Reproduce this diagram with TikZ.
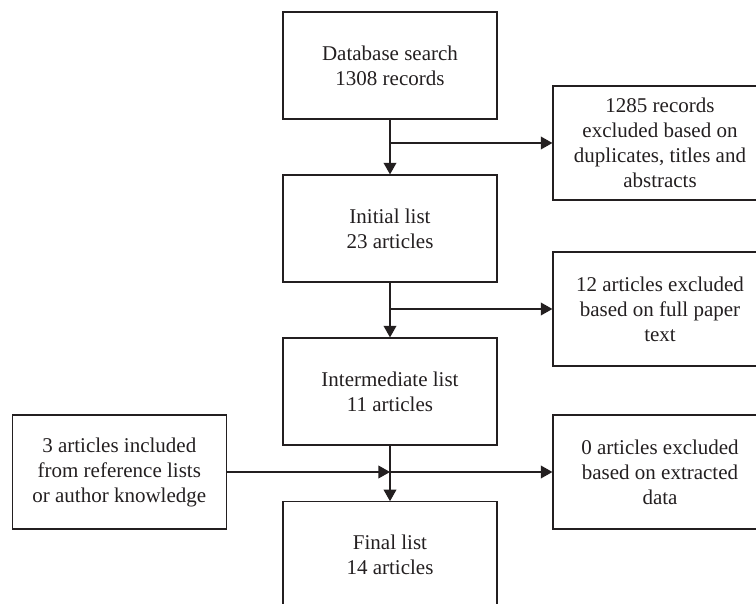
\documentclass[tikz,border=0pt]{standalone}
\usepackage{fontspec}
\setmainfont{Liberation Serif}
\usetikzlibrary{arrows.meta}

\definecolor{ink}{HTML}{231F20}
\tikzset{
  box/.style={draw=ink, text=ink, line width=0.6pt, minimum width=107pt, minimum height=53.5pt,
    inner sep=0pt, align=center, font=\fontsize{10.5}{12.5}\selectfont},
  sidebox/.style={box, minimum height=57pt},
  arr/.style={draw=ink, line width=0.6pt, -{Triangle[length=5.8pt,width=6.4pt]}}
}

\begin{document}
\begin{tikzpicture}[x=0.5pt,y=-0.5pt]
  \useasboundingbox (0,0) rectangle (756,604);
  \clip (0,0) rectangle (756,604);
  % main column
  \node[box] (db) at (390,65.5) {Database search\\1308 records};
  \node[box] (init) at (390,228.5) {Initial list\\23 articles};
  \node[box] (inter) at (390,391.5) {Intermediate list\\11 articles};
  \node[box] (final) at (390,555.3) {Final list\\14 articles};
  % side boxes
  \node[sidebox] (exA) at (660,143) {1285 records\\excluded based on\\duplicates, titles and\\abstracts};
  \node[sidebox] (exB) at (660,309) {12 articles excluded\\based on full paper\\text};
  \node[sidebox] (exC) at (660,472) {0 articles excluded\\based on extracted\\data};
  \node[sidebox] (inc) at (119.3,472) {3 articles included\\from reference lists\\or author knowledge};
  % arrows
  \draw[arr] (db) -- (init);
  \draw[arr] (db.south |- exA.west) -- (exA.west);
  \draw[arr] (init) -- (inter);
  \draw[arr] (init.south |- exB.west) -- (exB.west);
  \draw[arr] (inter) -- (final);
  \coordinate (join) at (inc.east -| inter.south);
  \draw[arr] (inc.east) -- (join);
  \draw[arr] (join) -- (exC.west);
\end{tikzpicture}
\end{document}
